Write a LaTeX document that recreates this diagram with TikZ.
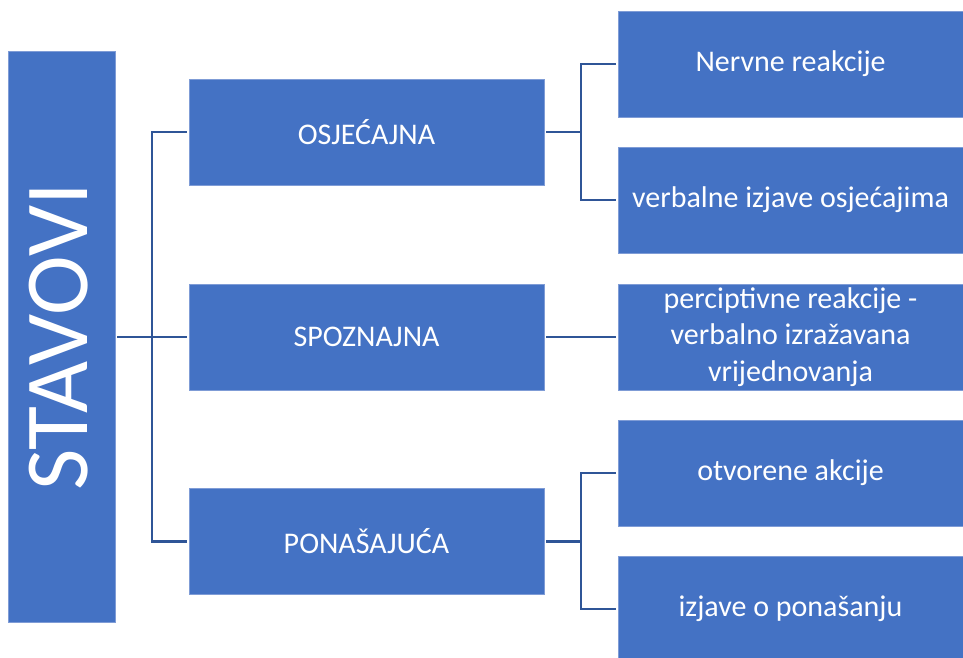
\documentclass[tikz,border=0pt]{standalone}
\usepackage{fontspec}
\setmainfont{Carlito}
\definecolor{boxblue}{HTML}{4472C4}
\definecolor{lineblue}{HTML}{2F5597}
\definecolor{edgeblue}{HTML}{7F9CD6}
\begin{document}
\begin{tikzpicture}[x=1pt,y=-1pt,
  box/.style={fill=boxblue,draw=edgeblue,line width=0.8pt,text=white,inner sep=0pt,align=center,font=\fontsize{30}{36.5}\selectfont},
  midbox/.style={box,minimum width=355pt,minimum height=106pt},
  rbox/.style={box,minimum width=345pt,minimum height=106pt},
  conn/.style={draw=lineblue,line width=2.4pt}]
\useasboundingbox (0,0) rectangle (963,657);
\fill[white] (0,0) rectangle (963,657);
\node[box,minimum width=107pt,minimum height=571pt] (stav) at (61.5,337) {};
\node[rotate=90,text=white,font=\fontsize{90}{90}\selectfont,inner sep=0pt] (stavt) at (59,337) {STAVOVI};
\node[midbox] (osj) at (366.5,132) {OSJEĆAJNA};
\node[midbox] (spoz) at (366.5,337) {SPOZNAJNA};
\node[midbox] (pon) at (366.5,541.5) {PONAŠAJUĆA};
\node[rbox] (nerv) at (790.5,64) {Nervne reakcije};
\node[rbox] (verb) at (790.5,200) {verbalne izjave osjećajima};
\node[rbox] (perc) at (790.5,337) {perciptivne reakcije -\\verbalno izražavana\\vrijednovanja};
\node[rbox] (otv) at (790.5,473) {otvorene akcije};
\node[rbox] (izj) at (790.5,609) {izjave o ponašanju};
\coordinate (j1) at (152,337);
\coordinate (j2) at (581,132);
\coordinate (j3) at (581,541.5);
\draw[conn,shorten <=2pt,shorten >=2pt] (stav.east) -- (spoz.west);
\draw[conn,shorten <=2pt,shorten >=2pt] (osj.west) -| (j1) |- (pon.west);
\draw[conn,shorten <=2pt,shorten >=2pt] (spoz.east) -- (perc.west);
\draw[conn,shorten <=2pt] (osj.east) -- (j2);
\draw[conn,shorten <=2pt,shorten >=2pt] (nerv.west) -| (j2) |- (verb.west);
\draw[conn,shorten <=2pt] (pon.east) -- (j3);
\draw[conn,shorten <=2pt,shorten >=2pt] (otv.west) -| (j3) |- (izj.west);
\end{tikzpicture}
\end{document}
